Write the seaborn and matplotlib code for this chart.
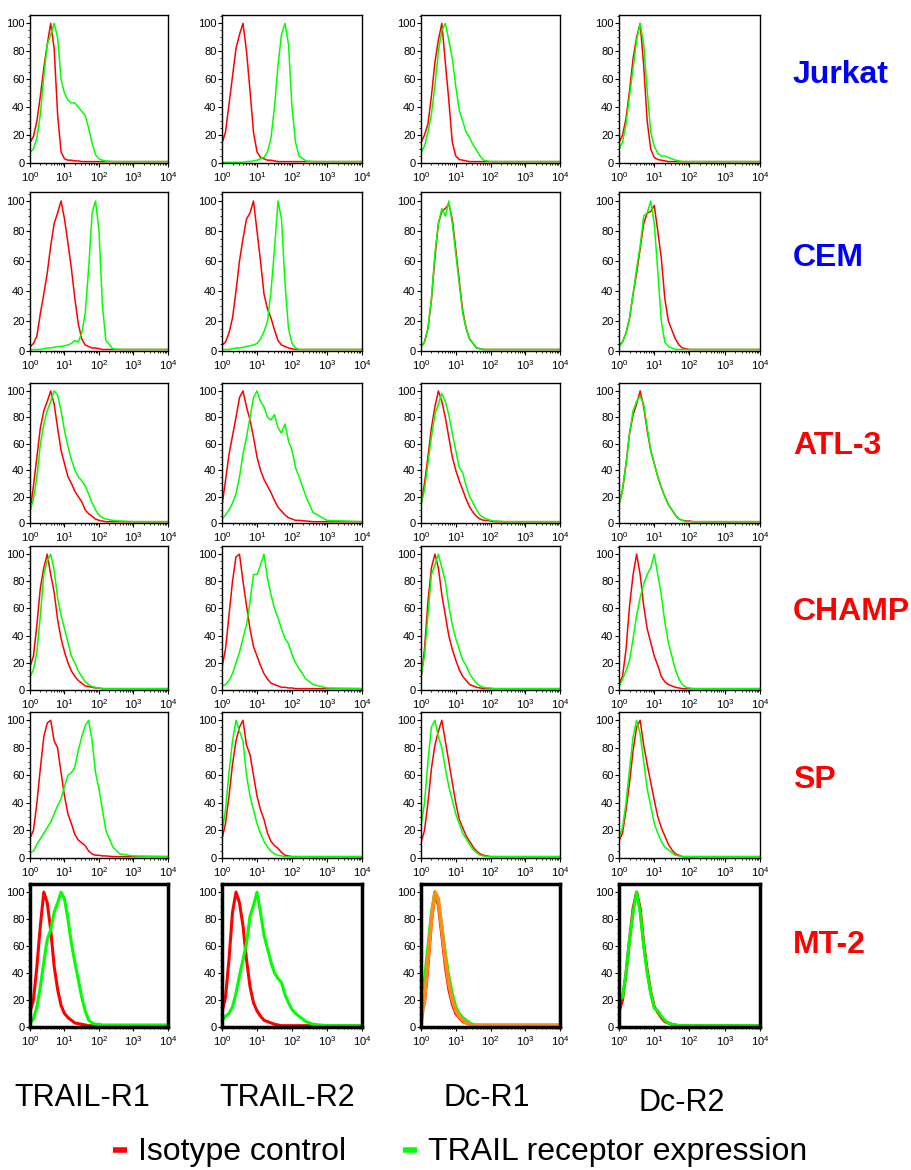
import numpy as np
import pandas as pd
import matplotlib
matplotlib.use("Agg")
import matplotlib.pyplot as plt
from matplotlib.ticker import FixedLocator, MultipleLocator, NullFormatter
import seaborn as sns

# fluorescence channel (log scale, 10^0 .. 10^4)
CHANNEL = [1.0, 1.023, 1.259, 1.585, 1.995, 2.512, 3.162, 3.981, 5.012, 6.310,
           7.943, 10.0, 12.59, 15.85, 19.95, 25.12, 31.62, 39.81, 50.12, 63.10,
           79.43, 100.0, 125.9, 158.5, 251.2, 398.1, 1000.0, 10000.0]

CELL_LINES = ["Jurkat", "CEM", "ATL-3", "CHAMP", "SP", "MT-2"]
CELL_COLORS = ["#0000ff", "#0000ff", "#ff0000", "#ff0000", "#ff0000", "#ff0000"]
RECEPTORS = ["TRAIL-R1", "TRAIL-R2", "Dc-R1", "Dc-R2"]
LEGEND_LABELS = ["Isotype control", "TRAIL receptor expression"]

# % of max, isotype (red) and receptor (green)
jurkat_r1_red = [53, 15, 19, 30, 48, 68, 85, 100, 82, 35, 8, 3, 2, 2, 1.5, 1.5, 1, 1, 1, 1, 1, 1, 1, 1, 1, 1, 1, 1]
jurkat_r1_green = [20, 8, 10, 18, 35, 62, 85, 92, 100, 90, 60, 50, 45, 43, 43, 40, 37, 34, 25, 14, 6, 3, 2, 1.5, 1, 1, 1, 1]
jurkat_r2_red = [53, 15, 22, 42, 62, 82, 92, 100, 80, 52, 22, 8, 4, 3, 2, 2, 1.5, 1, 1, 1, 1, 1, 1, 1, 1, 1, 1, 1]
jurkat_r2_green = [0.5, 0.5, 0.5, 0.5, 0.5, 0.5, 0.5, 0.5, 1, 1, 1.5, 2, 3, 4, 8, 18, 40, 70, 92, 100, 85, 40, 15, 5, 1.5, 1, 1, 1]
jurkat_dc1_red = [53, 15, 20, 28, 48, 72, 88, 100, 72, 45, 15, 5, 2.5, 2, 1.5, 1, 1, 1, 1, 1, 1, 1, 1, 1, 1, 1, 1, 1]
jurkat_dc1_green = [20, 8, 12, 22, 35, 55, 80, 95, 100, 88, 75, 55, 38, 30, 22, 18, 13, 9, 5, 2, 1.5, 1, 1, 1, 1, 1, 1, 1]
jurkat_dc2_red = [53, 15, 20, 32, 52, 75, 90, 100, 70, 30, 10, 4, 2.5, 2, 1.5, 1, 1, 1, 1, 1, 1, 1, 1, 1, 1, 1, 1, 1]
jurkat_dc2_green = [20, 10, 15, 28, 48, 68, 88, 100, 85, 52, 22, 12, 7, 5, 5, 4, 3, 2, 1.5, 1, 1, 1, 1, 1, 1, 1, 1, 1]

cem_r1_red = [8, 3, 5, 10, 25, 38, 52, 70, 85, 92, 100, 88, 72, 55, 35, 18, 8, 4, 3, 2, 2, 1.5, 1, 1, 1, 1, 1, 1]
cem_r1_green = [2, 1, 1, 1, 1, 1.5, 2, 2, 2.5, 3, 3, 3.5, 4, 5, 7, 6, 12, 25, 55, 92, 100, 80, 30, 7, 1.5, 1, 1, 1]
cem_r2_red = [8, 4, 6, 12, 22, 40, 60, 75, 88, 92, 100, 80, 60, 38, 28, 22, 14, 7, 4, 3, 2, 1.5, 1, 1, 1, 1, 1, 1]
cem_r2_green = [1, 1, 1, 1, 1.5, 2, 2, 2.5, 3, 3.5, 4, 5, 8, 13, 20, 40, 68, 100, 88, 45, 15, 5, 2, 1, 1, 1, 1, 1]
cem_dc1_red = [5, 3, 6, 15, 34, 62, 85, 93, 95, 98, 88, 68, 47, 27, 15, 8, 5, 2, 1.5, 1, 1, 1, 1, 1, 1, 1, 1, 1]
cem_dc1_green = [8, 3, 6, 15, 35, 65, 85, 95, 90, 100, 85, 65, 45, 25, 15, 8, 5, 2, 1.5, 1, 1, 1, 1, 1, 1, 1, 1, 1]
cem_dc2_red = [10, 4, 6, 12, 22, 38, 52, 68, 85, 92, 93, 97, 80, 62, 35, 20, 14, 8, 4, 2, 1.5, 1, 1, 1, 1, 1, 1, 1]
cem_dc2_green = [5, 3, 6, 12, 22, 38, 55, 70, 90, 92, 100, 85, 53, 20, 6, 3, 2, 1, 1, 1, 1, 1, 1, 1, 1, 1, 1, 1]

atl_r1_red = [100, 10, 28, 50, 72, 85, 92, 100, 90, 72, 55, 45, 35, 30, 24, 20, 16, 10, 7, 5, 3, 2, 1.5, 1, 1, 1, 1, 1]
atl_r1_green = [55, 10, 18, 35, 60, 75, 85, 92, 100, 97, 85, 70, 58, 48, 40, 35, 32, 28, 22, 15, 10, 6, 4, 3, 2, 1.5, 1, 1]
atl_r2_red = [100, 15, 32, 52, 66, 80, 95, 100, 88, 78, 65, 50, 40, 33, 28, 23, 17, 12, 9, 6, 4, 3, 2, 2, 1.5, 1, 1, 1]
atl_r2_green = [30, 3, 6, 10, 15, 22, 35, 52, 65, 80, 95, 100, 92, 88, 80, 78, 82, 72, 68, 75, 62, 55, 42, 35, 20, 8, 2, 1]
atl_dc1_red = [98, 15, 30, 50, 72, 88, 100, 92, 80, 65, 50, 40, 32, 25, 18, 12, 8, 5, 3, 2, 2, 1.5, 1, 1, 1, 1, 1, 1]
atl_dc1_green = [65, 15, 25, 45, 65, 82, 90, 98, 92, 82, 68, 55, 42, 38, 28, 20, 15, 10, 6, 4, 3, 2, 1.5, 1.5, 1, 1, 1, 1]
atl_dc2_red = [80, 15, 25, 45, 68, 82, 90, 100, 88, 70, 55, 45, 35, 27, 20, 14, 10, 6, 3, 2, 1.5, 1.5, 1, 1, 1, 1, 1, 1]
atl_dc2_green = [75, 15, 25, 45, 68, 85, 92, 96, 90, 72, 55, 45, 35, 27, 20, 14, 10, 6, 3, 2, 1, 1, 1, 1, 1, 1, 1, 1]

champ_r1_red = [60, 18, 25, 48, 75, 90, 100, 85, 72, 52, 38, 28, 20, 14, 10, 7, 5, 3, 2.5, 2, 1.5, 1.5, 1, 1, 1, 1, 1, 1]
champ_r1_green = [40, 10, 15, 28, 55, 85, 95, 100, 88, 68, 55, 45, 35, 25, 20, 14, 10, 6, 4, 2.5, 2, 1.5, 1, 1, 1, 1, 1, 1]
champ_r2_red = [60, 18, 30, 55, 80, 98, 100, 80, 62, 45, 32, 25, 18, 12, 8, 5, 4, 3, 2, 2, 1.5, 1.5, 1, 1, 1, 1, 1, 1]
champ_r2_green = [15, 3, 4, 7, 12, 20, 28, 38, 48, 65, 85, 85, 92, 100, 82, 70, 60, 53, 45, 38, 34, 26, 20, 16, 8, 4, 1.5, 1]
champ_dc1_red = [60, 10, 30, 65, 90, 100, 90, 70, 55, 40, 30, 22, 15, 10, 7, 4, 3, 2, 1.5, 1, 1, 1, 1, 1, 1, 1, 1, 1]
champ_dc1_green = [50, 12, 25, 55, 85, 92, 100, 90, 80, 62, 48, 38, 30, 22, 18, 12, 8, 5, 3, 2, 1.5, 1.5, 1, 1, 1, 1, 1, 1]
champ_dc2_red = [15, 5, 10, 30, 62, 85, 100, 85, 62, 45, 35, 25, 18, 10, 6, 4, 3, 2, 1.5, 1, 1, 1, 1, 1, 1, 1, 1, 1]
champ_dc2_green = [5, 3, 8, 14, 22, 38, 55, 68, 78, 85, 90, 100, 85, 70, 50, 35, 25, 15, 8, 4, 2, 1.5, 1, 1, 1, 1, 1, 1]

sp_r1_red = [75, 15, 20, 40, 65, 88, 98, 100, 85, 80, 62, 45, 32, 25, 17, 13, 11, 9, 5, 3, 2, 2, 1.5, 1.5, 1, 1, 1, 1]
sp_r1_green = [10, 4, 5, 10, 14, 18, 22, 26, 32, 38, 43, 52, 60, 62, 66, 78, 88, 96, 100, 85, 62, 50, 35, 20, 8, 3, 1.5, 1]
sp_r2_red = [20, 15, 25, 45, 68, 85, 95, 100, 82, 75, 60, 45, 35, 28, 18, 12, 9, 7, 4, 2, 1.5, 1, 1, 1, 1, 1, 1, 1]
sp_r2_green = [100, 20, 35, 62, 85, 100, 92, 85, 60, 45, 35, 25, 18, 12, 8, 5, 3, 2, 1.5, 1, 1, 1, 1, 1, 1, 1, 1, 1]
sp_dc1_red = [15, 12, 20, 40, 65, 82, 92, 100, 85, 70, 55, 40, 28, 22, 16, 12, 8, 5, 3, 2, 1.5, 1, 1, 1, 1, 1, 1, 1]
sp_dc1_green = [100, 25, 40, 70, 95, 100, 88, 80, 65, 52, 42, 32, 25, 18, 14, 10, 6, 4, 2, 1.5, 1, 1, 1, 1, 1, 1, 1, 1]
sp_dc2_red = [15, 13, 18, 35, 55, 78, 95, 100, 82, 68, 55, 42, 30, 22, 16, 10, 6, 3, 2, 1, 1, 1, 1, 1, 1, 1, 1, 1]
sp_dc2_green = [18, 15, 22, 40, 65, 88, 100, 90, 70, 50, 38, 25, 18, 12, 8, 6, 4, 2, 1.5, 1, 1, 1, 1, 1, 1, 1, 1, 1]

mt2_r1_red = [35, 12, 20, 45, 75, 100, 92, 72, 45, 28, 16, 10, 7, 5, 3, 2.5, 2, 1.5, 1, 1, 1, 1, 1, 1, 1, 1, 1, 1]
mt2_r1_green = [8, 3, 6, 15, 30, 48, 65, 72, 85, 92, 100, 95, 80, 62, 48, 35, 22, 12, 5, 3, 2, 2, 1.5, 1.5, 1.5, 1.5, 1.5, 1.5]
mt2_r2_red = [38, 12, 22, 50, 85, 100, 92, 75, 50, 30, 18, 12, 8, 5, 4, 3, 2, 1.5, 1, 1, 1, 1, 1, 1, 1, 1, 1, 1]
mt2_r2_green = [20, 5, 8, 10, 15, 25, 38, 50, 62, 82, 90, 100, 85, 68, 58, 48, 40, 36, 33, 24, 18, 13, 10, 8, 4, 2, 1, 1]
mt2_dc1_red = [15, 12, 18, 45, 78, 100, 90, 68, 45, 28, 17, 10, 7, 4, 3, 2, 1, 1, 1, 1, 1, 1, 1, 1, 1, 1, 1, 1]
mt2_dc1_green = [80, 25, 35, 60, 85, 100, 92, 75, 55, 38, 25, 15, 10, 7, 5, 3, 2, 1.5, 1, 1, 1, 1, 1, 1, 1, 1, 1, 1]
mt2_dc1_orange = [38, 5, 20, 50, 80, 100, 95, 72, 50, 32, 20, 12, 8, 5, 3, 2, 1.5, 1.5, 1.5, 1.5, 1.5, 1.5, 1.5, 1.5, 1.5, 1.5, 1.5, 1.5]
mt2_dc2_red = [12, 12, 20, 40, 65, 88, 100, 88, 62, 42, 26, 15, 11, 7, 4, 3, 2, 1.5, 1, 1, 1, 1, 1, 1, 1, 1, 1, 1]
mt2_dc2_green = [48, 20, 22, 40, 65, 85, 100, 85, 60, 40, 25, 14, 12, 8, 5, 3, 2, 1.5, 1, 1, 1, 1, 1, 1, 1, 1, 1, 1]

PANELS = [
    [(jurkat_r1_red, jurkat_r1_green), (jurkat_r2_red, jurkat_r2_green),
     (jurkat_dc1_red, jurkat_dc1_green), (jurkat_dc2_red, jurkat_dc2_green)],
    [(cem_r1_red, cem_r1_green), (cem_r2_red, cem_r2_green),
     (cem_dc1_red, cem_dc1_green), (cem_dc2_red, cem_dc2_green)],
    [(atl_r1_red, atl_r1_green), (atl_r2_red, atl_r2_green),
     (atl_dc1_red, atl_dc1_green), (atl_dc2_red, atl_dc2_green)],
    [(champ_r1_red, champ_r1_green), (champ_r2_red, champ_r2_green),
     (champ_dc1_red, champ_dc1_green), (champ_dc2_red, champ_dc2_green)],
    [(sp_r1_red, sp_r1_green), (sp_r2_red, sp_r2_green),
     (sp_dc1_red, sp_dc1_green), (sp_dc2_red, sp_dc2_green)],
    [(mt2_r1_red, mt2_r1_green), (mt2_r2_red, mt2_r2_green),
     (mt2_dc1_red, mt2_dc1_green, mt2_dc1_orange), (mt2_dc2_red, mt2_dc2_green)],
]

# long table for seaborn
rows = []
for i, cell in enumerate(CELL_LINES):
    for j, rec in enumerate(RECEPTORS):
        for k, series in enumerate(PANELS[i][j]):
            for ch, v in zip(CHANNEL, series):
                rows.append((cell, rec, k, ch, v))
df = pd.DataFrame(rows, columns=["cell", "receptor", "stain", "channel", "pct"])

# layout (pixels of the 912x1170 canvas)
W, H = 912, 1170
COL_X = [(30, 168), (222, 362), (421, 560), (619, 760)]
ROW_Y = [(15, 163), (192, 351), (383, 523), (546, 690), (712, 858), (884, 1027)]
LABEL_Y = [75, 258, 446, 612, 780, 945]
STAIN_COLORS = ["#ff0000", "#00ff00", "#ff8c1a"]

sns.set_style("white")
plt.rcParams["font.family"] = ["Liberation Sans", "DejaVu Sans"]
plt.rcParams["mathtext.fontset"] = "custom"
plt.rcParams["mathtext.rm"] = "Liberation Sans"
plt.rcParams["mathtext.it"] = "Liberation Sans"
plt.rcParams["text.color"] = "black"
plt.rcParams["xtick.color"] = "black"
plt.rcParams["ytick.color"] = "black"

fig = plt.figure(figsize=(W / 100, H / 100), dpi=100)

for i, cell in enumerate(CELL_LINES):
    thick = (i == len(CELL_LINES) - 1)
    lw = 2.2 if thick else 1.1
    for j, rec in enumerate(RECEPTORS):
        (l, r), (t, b) = COL_X[j], ROW_Y[i]
        ax = fig.add_axes([l / W, 1 - b / H, (r - l) / W, (b - t) / H])
        sub = df[(df.cell == cell) & (df.receptor == rec)]
        for k in sorted(sub.stain.unique()):
            sns.lineplot(data=sub[sub.stain == k], x="channel", y="pct", ax=ax,
                         color=STAIN_COLORS[k], lw=lw if k < 2 else 2.6,
                         estimator=None, sort=True)
        ax.set_xscale("log")
        ax.set_xlim(1, 10000)
        ax.set_ylim(0, 106)
        ax.set_xlabel("")
        ax.set_ylabel("")
        ax.xaxis.set_major_locator(FixedLocator([1, 10, 100, 1000, 10000]))
        ax.set_xticklabels([r"$10^{0}$", r"$10^{1}$", r"$10^{2}$", r"$10^{3}$", r"$10^{4}$"])
        ax.xaxis.set_minor_locator(FixedLocator(
            [m * 10 ** e for e in range(4) for m in range(2, 10)]))
        ax.xaxis.set_minor_formatter(NullFormatter())
        ax.yaxis.set_major_locator(FixedLocator([0, 20, 40, 60, 80, 100]))
        ax.yaxis.set_minor_locator(MultipleLocator(5))
        ax.tick_params(axis="x", which="major", pad=2.5)
        ax.tick_params(axis="y", which="major", pad=1)
        ax.tick_params(axis="both", which="major", labelsize=8, length=3,
                       width=0.8, direction="out", bottom=True, left=True)
        ax.tick_params(axis="both", which="minor", length=1.5, width=0.6,
                       bottom=True, left=True)
        for sp in ax.spines.values():
            sp.set_visible(True)
            sp.set_color("black")
            sp.set_linewidth(2.5 if thick else 1.0)
        ax.grid(False)
        if ax.get_legend():
            ax.get_legend().remove()

    fig.text(793 / W, 1 - LABEL_Y[i] / H, cell, color=CELL_COLORS[i],
             fontsize=23, fontweight="bold", ha="left", va="center")

# receptor names under the columns
REC_X = [82, 287, 487, 682]
REC_Y = [1098, 1098, 1098, 1103]
for name, x, y in zip(RECEPTORS, REC_X, REC_Y):
    fig.text(x / W, 1 - y / H, name, fontsize=22, ha="center", va="center")

# legend
for lab, col, x0 in zip(LEGEND_LABELS, STAIN_COLORS[:2], [113, 403]):
    fig.add_artist(plt.Line2D([x0 / W, (x0 + 14) / W], [1 - 1150 / H] * 2,
                              color=col, lw=4, solid_capstyle="butt"))
    fig.text((x0 + 25) / W, 1 - 1152 / H, lab, fontsize=23, ha="left", va="center")

fig.savefig("out.png", dpi=100)
